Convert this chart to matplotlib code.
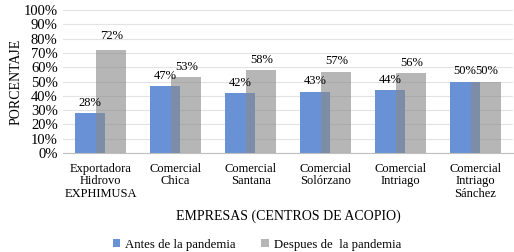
import numpy as np
import matplotlib.pyplot as plt

plt.rcParams['font.family'] = ['Liberation Serif', 'DejaVu Serif']

empresas = ['Exportadora\nHidrovo\nEXPHIMUSA', 'Comercial\nChica', 'Comercial\nSantana',
            'Comercial\nSolórzano', 'Comercial\nIntriago', 'Comercial\nIntriago\nSánchez']
antes = [28, 47, 42, 43, 44, 50]
despues = [72, 53, 58, 57, 56, 50]

x = np.arange(len(empresas))
w = 0.4
off = 0.143

fig = plt.figure(figsize=(5.14, 2.52), dpi=100)
ax = fig.add_axes([0.123, 0.393, 0.875, 0.567])

b1 = ax.bar(x - off, antes, w, color='#6891d6', label='Antes de la pandemia', zorder=2)
b2 = ax.bar(x + off, despues, w, color='#8a8a8a', alpha=0.62, label='Despues de  la pandemia', zorder=3)

for xi, v in zip(x, antes):
    ax.text(xi - off, v + 3, f'{v}%', ha='center', va='bottom', fontsize=9)
for xi, v in zip(x, despues):
    ax.text(xi + off, v + 6 if xi == 0 else v + 3, f'{v}%', ha='center', va='bottom', fontsize=9)

ax.set_xlim(-0.5, 5.5)
ax.set_ylim(0, 100)
ax.set_yticks(range(0, 101, 10))
ax.set_yticklabels([f'{t}%' for t in range(0, 101, 10)], fontsize=10.5)
ax.set_xticks(x)
ax.set_xticklabels(empresas, fontsize=9, linespacing=1.05)
ax.tick_params(axis='y', length=0, pad=4)
ax.tick_params(axis='x', length=0, pad=7)
ax.yaxis.grid(True, color='#e3e3e3', linewidth=0.8, zorder=0)
for s in ['top', 'right', 'left']:
    ax.spines[s].set_visible(False)
ax.spines['bottom'].set_color('#bfbfbf')
ax.set_ylabel('PORCENTAJE', fontsize=10, labelpad=1)
ax.set_xlabel('EMPRESAS (CENTROS DE ACOPIO)', fontsize=10, labelpad=7)

fig.legend(handles=[b1, b2], loc='lower center', bbox_to_anchor=(0.5, -0.04), ncol=2,
           frameon=False, fontsize=9.2, handlelength=0.6, handleheight=0.6,
           columnspacing=2.0, handletextpad=0.4)

fig.savefig('out.png', dpi=100)
